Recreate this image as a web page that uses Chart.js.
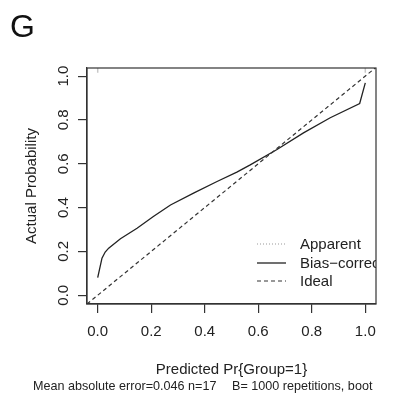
<!DOCTYPE html>
<html><head><meta charset="utf-8">
<script src="https://cdn.jsdelivr.net/npm/chart.js@4.4.1/dist/chart.umd.min.js"></script>
<style>html,body{margin:0;padding:0;background:#fff}#wrap{width:394px;height:398px}</style>
</head><body><div id="wrap"><canvas id="c" width="394" height="398"></canvas></div>
<script>
const predicted = [0.0, 0.016, 0.028, 0.041, 0.085, 0.147, 0.208, 0.272, 0.36, 0.446, 0.52, 0.57, 0.67, 0.769, 0.869, 0.979, 1.0];
const biasCorrected = [0.080, 0.169, 0.197, 0.215, 0.258, 0.306, 0.359, 0.412, 0.467, 0.519, 0.562, 0.595, 0.665, 0.741, 0.810, 0.875, 0.969];
const idealX = [-0.04, 1.04];
const idealY = [-0.04, 1.04];
const rugX = [0.0, 1.0];
const tickValues = [0, 0.2, 0.4, 0.6, 0.8, 1.0];
const tickLabels = ['0.0', '0.2', '0.4', '0.6', '0.8', '1.0'];
const legendLabels = ['Apparent', 'Bias\u2212corrected', 'Ideal'];
const panelLabel = 'G';
const xTitle = 'Predicted Pr{Group=1}';
const yTitle = 'Actual Probability';
const subLeft = 'Mean absolute error=0.046 n=17';
const subRight = 'B= 1000 repetitions, boot';

const FONT = "'Liberation Sans', Arial, Helvetica, sans-serif";
const INK = '#222';
Chart.defaults.font.family = FONT;
Chart.defaults.color = INK;

const fixTicks = s => { s.ticks = tickValues.map(v => ({ value: v })); };
const lab = v => { const i = tickValues.findIndex(t => Math.abs(t - v) < 1e-9); return i >= 0 ? tickLabels[i] : ''; };

const extras = {
  id: 'extras',
  afterDraw(chart) {
    const ctx = chart.ctx, a = chart.chartArea;
    ctx.save();
    ctx.strokeStyle = '#333';
    ctx.lineWidth = 1.2;
    ctx.strokeRect(a.left, a.top, a.right - a.left, a.bottom - a.top);
    ctx.save();
    ctx.beginPath();
    ctx.rect(a.left, a.top, a.right - a.left, a.bottom - a.top);
    ctx.clip();
    const rows = [244, 263, 281];
    const styles = [
      { dash: [1, 2], color: '#999', w: 1 },
      { dash: [], color: INK, w: 1.3 },
      { dash: [4, 3], color: '#333', w: 1.2 }
    ];
    ctx.font = '15px ' + FONT;
    ctx.textBaseline = 'middle';
    ctx.textAlign = 'left';
    legendLabels.forEach((t, i) => {
      const st = styles[i];
      ctx.beginPath();
      ctx.setLineDash(st.dash);
      ctx.strokeStyle = st.color;
      ctx.lineWidth = st.w;
      ctx.moveTo(257, rows[i]);
      ctx.lineTo(286, rows[i]);
      ctx.stroke();
      ctx.setLineDash([]);
      ctx.fillStyle = INK;
      ctx.fillText(t, 300, rows[i] + 1);
    });
    ctx.restore();
    ctx.fillStyle = '#111';
    ctx.font = '32px ' + FONT;
    ctx.textBaseline = 'alphabetic';
    ctx.textAlign = 'left';
    ctx.fillText(panelLabel, 10, 37);
    ctx.font = '12.6px ' + FONT;
    ctx.fillStyle = INK;
    ctx.fillText(subLeft, 33, 390);
    ctx.fillText(subRight, 232, 390);
    ctx.restore();
  }
};

new Chart(document.getElementById('c'), {
  type: 'scatter',
  data: {
    datasets: [
      {
        label: 'Ideal',
        data: idealX.map((x, i) => ({ x, y: idealY[i] })),
        showLine: true, borderColor: '#333', borderWidth: 1.2, borderDash: [4, 3],
        pointRadius: 0, fill: false
      },
      {
        label: 'Bias-corrected',
        data: predicted.map((x, i) => ({ x, y: biasCorrected[i] })),
        showLine: true, borderColor: INK, borderWidth: 1.3, tension: 0,
        pointRadius: 0, fill: false
      },
      {
        label: 'rug',
        data: rugX.map(x => ({ x, y: 1.029 })),
        showLine: false, pointStyle: 'line', rotation: 90, pointRadius: 3,
        borderColor: '#c8c8c8', borderWidth: 1.5
      }
    ]
  },
  options: {
    responsive: false,
    animation: false,
    devicePixelRatio: 1,
    layout: { padding: { left: 0, right: 18, top: 68, bottom: 0 } },
    plugins: { legend: { display: false }, tooltip: { enabled: false } },
    scales: {
      x: {
        type: 'linear', min: -0.04, max: 1.04,
        afterBuildTicks: fixTicks,
        afterFit: s => { s.height = 94; },
        ticks: { callback: v => lab(v), font: { size: 15 }, color: INK, padding: 10, maxRotation: 0, autoSkip: false },
        grid: { display: true, drawOnChartArea: false, drawTicks: true, tickLength: 9, color: '#333', lineWidth: 1.2 },
        border: { display: true, color: '#333', width: 1.2 },
        title: { display: true, text: xTitle, font: { size: 15 }, color: INK, padding: { top: 0, bottom: 19 } }
      },
      y: {
        type: 'linear', min: -0.04, max: 1.037,
        afterBuildTicks: fixTicks,
        afterFit: s => { s.width = 87; },
        ticks: { callback: v => lab(v), font: { size: 15 }, color: INK, padding: 4, minRotation: 90, maxRotation: 90, crossAlign: 'center', autoSkip: false },
        grid: { display: true, drawOnChartArea: false, drawTicks: true, tickLength: 9, color: '#333', lineWidth: 1.2 },
        border: { display: true, color: '#333', width: 1.2 },
        title: { display: true, text: yTitle, font: { size: 15 }, color: INK, padding: { top: 23, bottom: 0 } }
      }
    }
  },
  plugins: [extras]
});
</script></body></html>
